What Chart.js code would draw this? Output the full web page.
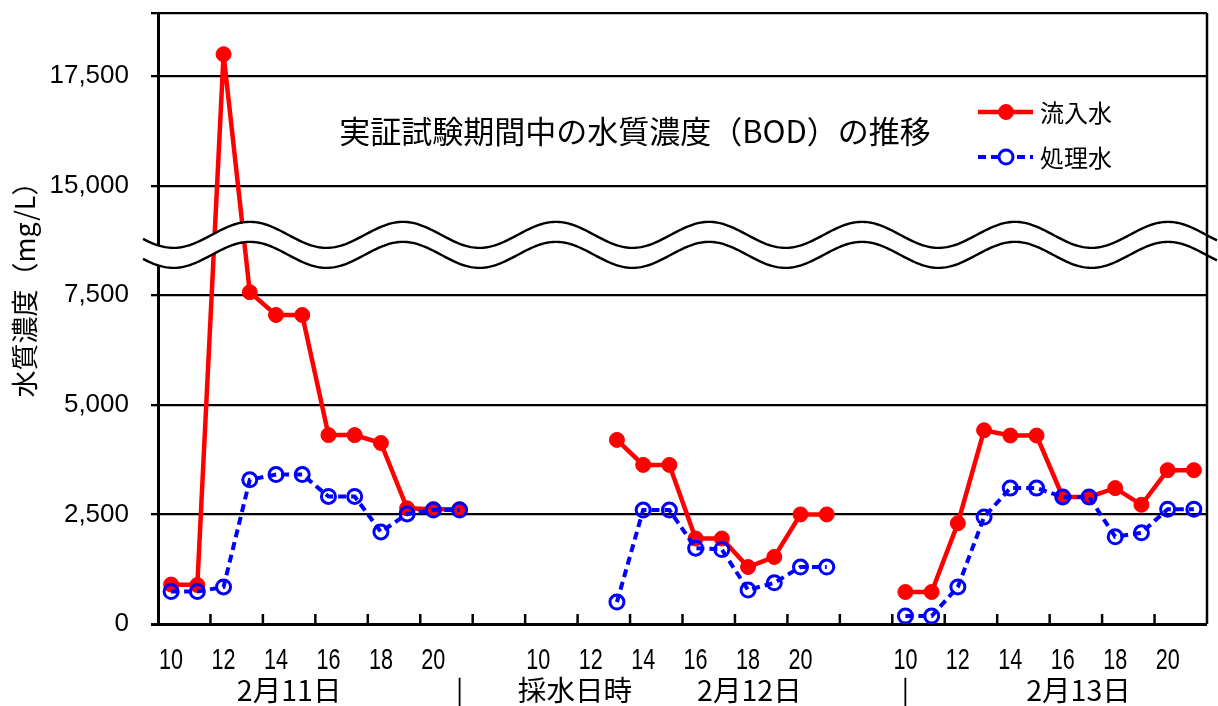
<!DOCTYPE html>
<html>
<head>
<meta charset="utf-8">
<script src="https://cdn.jsdelivr.net/npm/chart.js@4.4.1/dist/chart.umd.min.js"></script>
<style>
  html, body { margin: 0; padding: 0; background: #fff; }
  #wrap { width: 1218px; height: 706px; }
</style>
</head>
<body>
<div id="wrap"><canvas id="bod-chart"></canvas></div>
<script>
// hours sampled each day, two empty slots between days
const hours = [10, 11, 12, 13, 14, 15, 16, 17, 18, 19, 20, 21];
const gap = ['', ''];

// BOD (mg/L)
const inflow11 = [900, 890, 18000, 7570, 7050, 7050, 4310, 4310, 4130, 2640, 2620, 2620];
const inflow12 = [null, null, null, 4200, 3630, 3630, 1950, 1950, 1300, 1530, 2500, 2500];
const inflow13 = [730, 730, 2300, 4420, 4300, 4300, 2900, 2900, 3100, 2720, 3510, 3510];
const treated11 = [740, 740, 845, 3290, 3410, 3410, 2910, 2910, 2100, 2510, 2600, 2600];
const treated12 = [null, null, null, 500, 2600, 2600, 1730, 1700, 775, 940, 1300, 1300];
const treated13 = [180, 180, 845, 2440, 3100, 3100, 2900, 2900, 1990, 2080, 2620, 2620];

// broken axis: values above the break are shifted down by this much
const breakShift = 5000;
const breakAt = 8650;
const yMax = 13940;
const yTickValues = [0, 2500, 5000, 7500, 10000, 12500];

// text under the axis, placed at category positions
const dayLabels = [
  { text: '2月11日', at: 4.5 },
  { text: '|', at: 11 },
  { text: '採水日時', at: 15.4 },
  { text: '2月12日', at: 22.05 },
  { text: '|', at: 28 },
  { text: '2月13日', at: 34.6 }
];

const labels = [].concat(hours, gap, hours, gap, hours);
const squash = v => (v === null ? null : (v > breakAt ? v - breakShift : v));
const inflow = [].concat(inflow11, [null, null], inflow12, [null, null], inflow13).map(squash);
const treated = [].concat(treated11, [null, null], treated12, [null, null], treated13).map(squash);

const jpFont = '"Noto Sans CJK JP", "Noto Sans", sans-serif';

const decorPlugin = {
  id: 'decor',
  afterDatasetsDraw(chart) {
    const { ctx, chartArea, scales } = chart;
    const x = scales.x;
    const yc = scales.y.getPixelForValue(breakAt);

    // wavy break band
    const amp = 13, half = 10, period = 153, peak = 250;
    const x0 = 143, x1 = chart.width;
    const wave = (px, off) => yc + off - amp * Math.cos(2 * Math.PI * (px - peak) / period);
    ctx.save();
    ctx.beginPath();
    for (let px = x0; px <= x1; px += 2) {
      const py = wave(px, -half);
      px === x0 ? ctx.moveTo(px, py) : ctx.lineTo(px, py);
    }
    for (let px = x1; px >= x0; px -= 2) ctx.lineTo(px, wave(px, half));
    ctx.closePath();
    ctx.fillStyle = '#fff';
    ctx.fill();
    ctx.strokeStyle = '#000';
    ctx.lineWidth = 2.4;
    [-half, half].forEach(off => {
      ctx.beginPath();
      for (let px = x0; px <= x1; px += 2) {
        const py = wave(px, off);
        px === x0 ? ctx.moveTo(px, py) : ctx.lineTo(px, py);
      }
      ctx.stroke();
    });

    // right border
    ctx.lineWidth = 2.5;
    ctx.beginPath();
    ctx.moveTo(chartArea.right, chartArea.top);
    ctx.lineTo(chartArea.right, chartArea.bottom);
    ctx.stroke();

    // inward tick marks every two categories
    for (let k = 2; k < labels.length; k += 2) {
      const bx = (x.getPixelForValue(k - 1) + x.getPixelForValue(k)) / 2;
      ctx.beginPath();
      ctx.moveTo(bx, chartArea.bottom);
      ctx.lineTo(bx, chartArea.bottom - 10);
      ctx.stroke();
    }
    ctx.restore();
  },
  afterDraw(chart) {
    const { ctx, scales } = chart;
    const x = scales.x;
    ctx.save();
    ctx.fillStyle = '#000';
    ctx.textAlign = 'center';
    ctx.textBaseline = 'middle';

    // title inside the plot
    ctx.font = '31px ' + jpFont;
    ctx.fillText('実証試験期間中の水質濃度（BOD）の推移', 635, 131);

    // y axis title
    ctx.save();
    ctx.translate(25, 283);
    ctx.rotate(-Math.PI / 2);
    ctx.font = '27px ' + jpFont;
    ctx.fillText('水質濃度（mg/L）', 0, 0);
    ctx.restore();

    // hour labels (even hours), narrow
    labels.forEach((h, i) => {
      if (h === '' || h % 2 !== 0) return;
      ctx.save();
      ctx.translate(x.getPixelForValue(i), 661);
      ctx.scale(0.72, 1);
      ctx.font = '30px "Liberation Sans", Arial, sans-serif';
      ctx.fillText(String(h), 0, 0);
      ctx.restore();
    });

    // day labels row
    dayLabels.forEach(d => {
      ctx.save();
      ctx.translate(x.getPixelForValue(d.at), 690);
      ctx.scale(1.02, 1);
      ctx.font = '28px ' + jpFont;
      ctx.fillText(d.text, 0, 0);
      ctx.restore();
    });

    // legend
    const items = [
      { text: '流入水', ds: chart.data.datasets[1], y: 112 },
      { text: '処理水', ds: chart.data.datasets[0], y: 157 }
    ];
    items.forEach(it => {
      const ds = it.ds;
      ctx.strokeStyle = ds.borderColor;
      ctx.lineWidth = ds.borderWidth;
      ctx.setLineDash(ds.borderDash || []);
      ctx.beginPath();
      ctx.moveTo(978, it.y);
      ctx.lineTo(1033, it.y);
      ctx.stroke();
      ctx.setLineDash([]);
      ctx.beginPath();
      ctx.arc(1006, it.y, ds.pointRadius, 0, Math.PI * 2);
      ctx.fillStyle = ds.pointBackgroundColor === 'transparent' ? '#fff' : ds.pointBackgroundColor;
      ctx.fill();
      ctx.lineWidth = ds.pointBorderWidth;
      ctx.strokeStyle = ds.pointBorderColor;
      ctx.stroke();
      ctx.fillStyle = '#000';
      ctx.font = '24px ' + jpFont;
      ctx.textAlign = 'left';
      ctx.fillText(it.text, 1040, it.y + 1);
    });
    ctx.restore();
  }
};

new Chart(document.getElementById('bod-chart'), {
  type: 'line',
  data: {
    labels: labels,
    datasets: [
      {
        label: '処理水',
        data: treated,
        borderColor: '#0000ff',
        borderWidth: 4,
        borderDash: [8, 5],
        pointRadius: 7,
        pointBorderWidth: 3,
        pointBackgroundColor: 'transparent',
        pointBorderColor: '#0000ff',
        tension: 0,
        order: 0
      },
      {
        label: '流入水',
        data: inflow,
        borderColor: '#ff0000',
        borderWidth: 4.5,
        pointRadius: 7.5,
        pointBorderWidth: 1,
        pointBackgroundColor: '#ff0000',
        pointBorderColor: '#ff0000',
        tension: 0,
        order: 1
      }
    ]
  },
  options: {
    responsive: true,
    maintainAspectRatio: false,
    animation: false,
    layout: { padding: { left: 0, right: 11, top: 13, bottom: 0 } },
    plugins: {
      legend: { display: false },
      tooltip: { enabled: false }
    },
    scales: {
      x: {
        offset: true,
        grid: { display: false, drawTicks: false },
        border: { display: false },
        ticks: { display: false },
        afterFit: scale => { scale.height = 82; }
      },
      y: {
        min: 0,
        max: yMax,
        afterBuildTicks: scale => {
          scale.ticks = yTickValues.concat([yMax]).map(v => ({ value: v }));
        },
        ticks: {
          color: '#000',
          padding: 22,
          font: { family: '"Liberation Sans", Arial, sans-serif', size: 26 },
          callback: v => {
            if (!yTickValues.includes(v)) return '';
            return (v >= 10000 ? v + breakShift : v).toLocaleString('en-US');
          }
        },
        grid: {
          color: '#000',
          lineWidth: c => (c.tick && c.tick.value === 0 ? 3 : 2.3),
          tickLength: 7
        },
        border: { display: true, color: '#000', width: 3 },
        afterFit: scale => {
          scale.width = 158;
          scale.paddingTop = 0;
          scale.paddingBottom = 0;
        }
      }
    }
  },
  plugins: [decorPlugin]
});
</script>
</body>
</html>
